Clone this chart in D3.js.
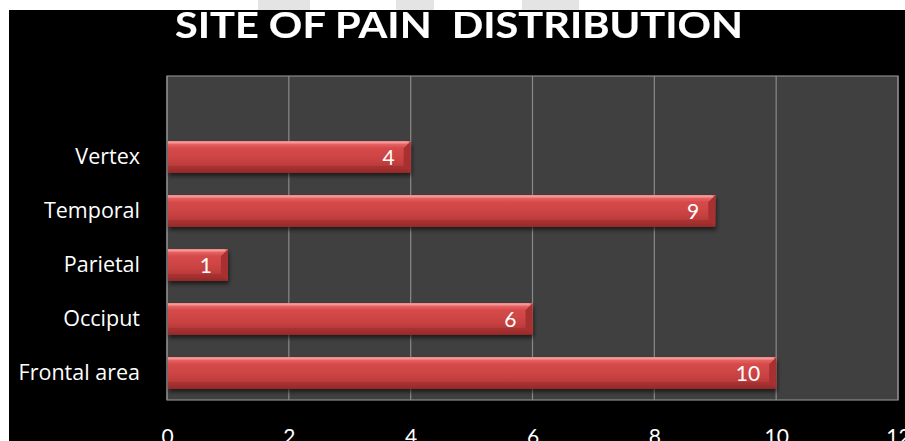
<!DOCTYPE html>
<html>
<head>
<meta charset="utf-8">
<script src="https://cdn.jsdelivr.net/npm/d3@7"></script>
<style>
  html, body { margin: 0; padding: 0; background: #ffffff; overflow: hidden; }
  svg { display: block; }
</style>
</head>
<body>
<svg id="chart" width="905" height="441"></svg>
<script>
// Site of pain, number of patients per location (top slot of the axis is left empty)
const categories = ["", "Vertex", "Temporal", "Parietal", "Occiput", "Frontal area"];
const values = [null, 4, 9, 1, 6, 10];
const xTicks = [0, 2, 4, 6, 8, 10, 12];
const title = "SITE OF PAIN  DISTRIBUTION";

const svg = d3.select("#chart");
const W = 905, H = 441;
const plot = { left: 167, right: 898, top: 76, bottom: 400 };
const font = "Lato, 'Open Sans', sans-serif";
const labelFont = "'Open Sans', sans-serif";

// dark page behind the chart
svg.append("rect").attr("x", 9).attr("y", 10).attr("width", W - 9).attr("height", H - 10).attr("fill", "#000");

// faint grey smudges on the white strip above
const smudges = [[258, 52], [396, 38], [522, 57]];
svg.selectAll("rect.smudge").data(smudges).join("rect")
  .attr("class", "smudge")
  .attr("x", d => d[0]).attr("y", 0).attr("width", d => d[1]).attr("height", 10)
  .attr("fill", "#e4e4e4");

const defs = svg.append("defs");
const grad = defs.append("linearGradient").attr("id", "barGrad")
  .attr("x1", 0).attr("y1", 0).attr("x2", 0).attr("y2", 1);
[[0, "#f79090"], [0.1, "#e66262"], [0.22, "#d64a4a"], [0.6, "#c94242"], [0.85, "#b33636"], [1, "#8a2626"]]
  .forEach(([o, c]) => grad.append("stop").attr("offset", o).attr("stop-color", c));
const shadow = defs.append("filter").attr("id", "shadow")
  .attr("x", "-5%").attr("y", "-20%").attr("width", "115%").attr("height", "160%");
shadow.append("feGaussianBlur").attr("in", "SourceAlpha").attr("stdDeviation", 2);
shadow.append("feOffset").attr("dx", 1).attr("dy", 3).attr("result", "b");
shadow.append("feComponentTransfer").append("feFuncA").attr("type", "linear").attr("slope", 0.6);
const merge = shadow.append("feMerge");
merge.append("feMergeNode");
merge.append("feMergeNode").attr("in", "SourceGraphic");

const titleGlow = defs.append("filter").attr("id", "glow").attr("x", "-5%").attr("y", "-30%").attr("width", "110%").attr("height", "160%");
titleGlow.append("feGaussianBlur").attr("in", "SourceAlpha").attr("stdDeviation", 1.2).attr("result", "g");
const tm = titleGlow.append("feMerge");
tm.append("feMergeNode").attr("in", "g");
tm.append("feMergeNode").attr("in", "SourceGraphic");

const x = d3.scaleLinear().domain([0, 12]).range([plot.left, plot.right]);
const y = d3.scaleBand().domain(categories).range([plot.top, plot.bottom]).padding(0);
const barH = y.bandwidth() * 0.59;

// plot area
svg.append("rect")
  .attr("x", plot.left).attr("y", plot.top)
  .attr("width", plot.right - plot.left).attr("height", plot.bottom - plot.top)
  .attr("fill", "#404040");

// vertical gridlines
svg.selectAll("line.grid").data(xTicks).join("line")
  .attr("class", "grid")
  .attr("x1", d => x(d)).attr("x2", d => x(d))
  .attr("y1", plot.top).attr("y2", plot.bottom)
  .attr("stroke", "#8a8a8a").attr("stroke-width", 1.2);

// plot border
svg.append("rect")
  .attr("x", plot.left).attr("y", plot.top)
  .attr("width", plot.right - plot.left).attr("height", plot.bottom - plot.top)
  .attr("fill", "none").attr("stroke", "#8a8a8a").attr("stroke-width", 1.2);

const rows = categories.map((c, i) => ({ c, v: values[i] })).filter(d => d.v != null);

const bars = svg.selectAll("g.bar").data(rows).join("g").attr("class", "bar");
const bx0 = x(0) + 1;
const barTop = d => y(d.c) + (y.bandwidth() - barH) / 2;
bars.append("rect")
  .attr("x", bx0)
  .attr("y", barTop)
  .attr("width", d => x(d.v) - bx0)
  .attr("height", barH)
  .attr("fill", "url(#barGrad)")
  .attr("filter", "url(#shadow)");
// bevelled right end
const bev = 7;
bars.append("path")
  .attr("d", d => {
    const t = barTop(d), b = t + barH, r = x(d.v);
    return `M${r - bev},${t + bev} L${r},${t} L${r},${b} L${r - bev},${b - bev} Z`;
  })
  .attr("fill", "#a83030");
bars.append("path")
  .attr("d", d => {
    const t = barTop(d), r = x(d.v);
    return `M${r - bev},${t + bev} L${r},${t} L${r - 3},${t} Z`;
  })
  .attr("fill", "#d86a6a");
bars.append("path")
  .attr("d", d => {
    const t = barTop(d), b = t + barH, r = x(d.v);
    return `M${bx0},${b} L${r},${b} L${r - bev},${b - bev} L${bx0},${b - bev} Z`;
  })
  .attr("fill", "#9a2c2c").attr("opacity", 0.55);
bars.append("line")
  .attr("x1", bx0).attr("x2", d => x(d.v) - 2)
  .attr("y1", d => barTop(d) + 1.5)
  .attr("y2", d => barTop(d) + 1.5)
  .attr("stroke", "#fa9a9a").attr("stroke-width", 2).attr("opacity", 0.8);

// value labels inside bar ends
bars.append("text")
  .attr("x", d => x(d.v) - 16)
  .attr("y", d => y(d.c) + y.bandwidth() / 2 + 8)
  .attr("text-anchor", "end")
  .attr("font-family", font)
  .attr("font-size", 21)
  .attr("fill", "#fff")
  .text(d => d.v);

// category axis
const yAxis = d3.axisLeft(y).tickSize(0).tickPadding(0);
const gy = svg.append("g").attr("transform", `translate(${plot.left - 27},0)`).call(yAxis);
gy.select(".domain").remove();
gy.selectAll("text")
  .attr("font-family", labelFont)
  .attr("font-size", 21.5)
  .attr("fill", "#fff")
  .attr("dy", "0.34em");

// value axis
const xAxis = d3.axisBottom(x).tickValues(xTicks).tickSize(0).tickPadding(0);
const gx = svg.append("g").attr("transform", `translate(0,${plot.bottom})`).call(xAxis);
gx.select(".domain").remove();
gx.selectAll("text")
  .attr("font-family", font)
  .attr("font-size", 21)
  .attr("fill", "#fff")
  .attr("dy", 0)
  .attr("y", 44);

// title
svg.append("text")
  .attr("x", 459).attr("y", 38)
  .attr("text-anchor", "middle")
  .attr("font-family", font)
  .attr("font-weight", 700)
  .attr("font-size", 37)
  .attr("fill", "#fff")
  .attr("filter", "url(#glow)")
  .style("white-space", "pre")
  .attr("textLength", 568)
  .attr("lengthAdjust", "spacingAndGlyphs")
  .text(title);
</script>
</body>
</html>
